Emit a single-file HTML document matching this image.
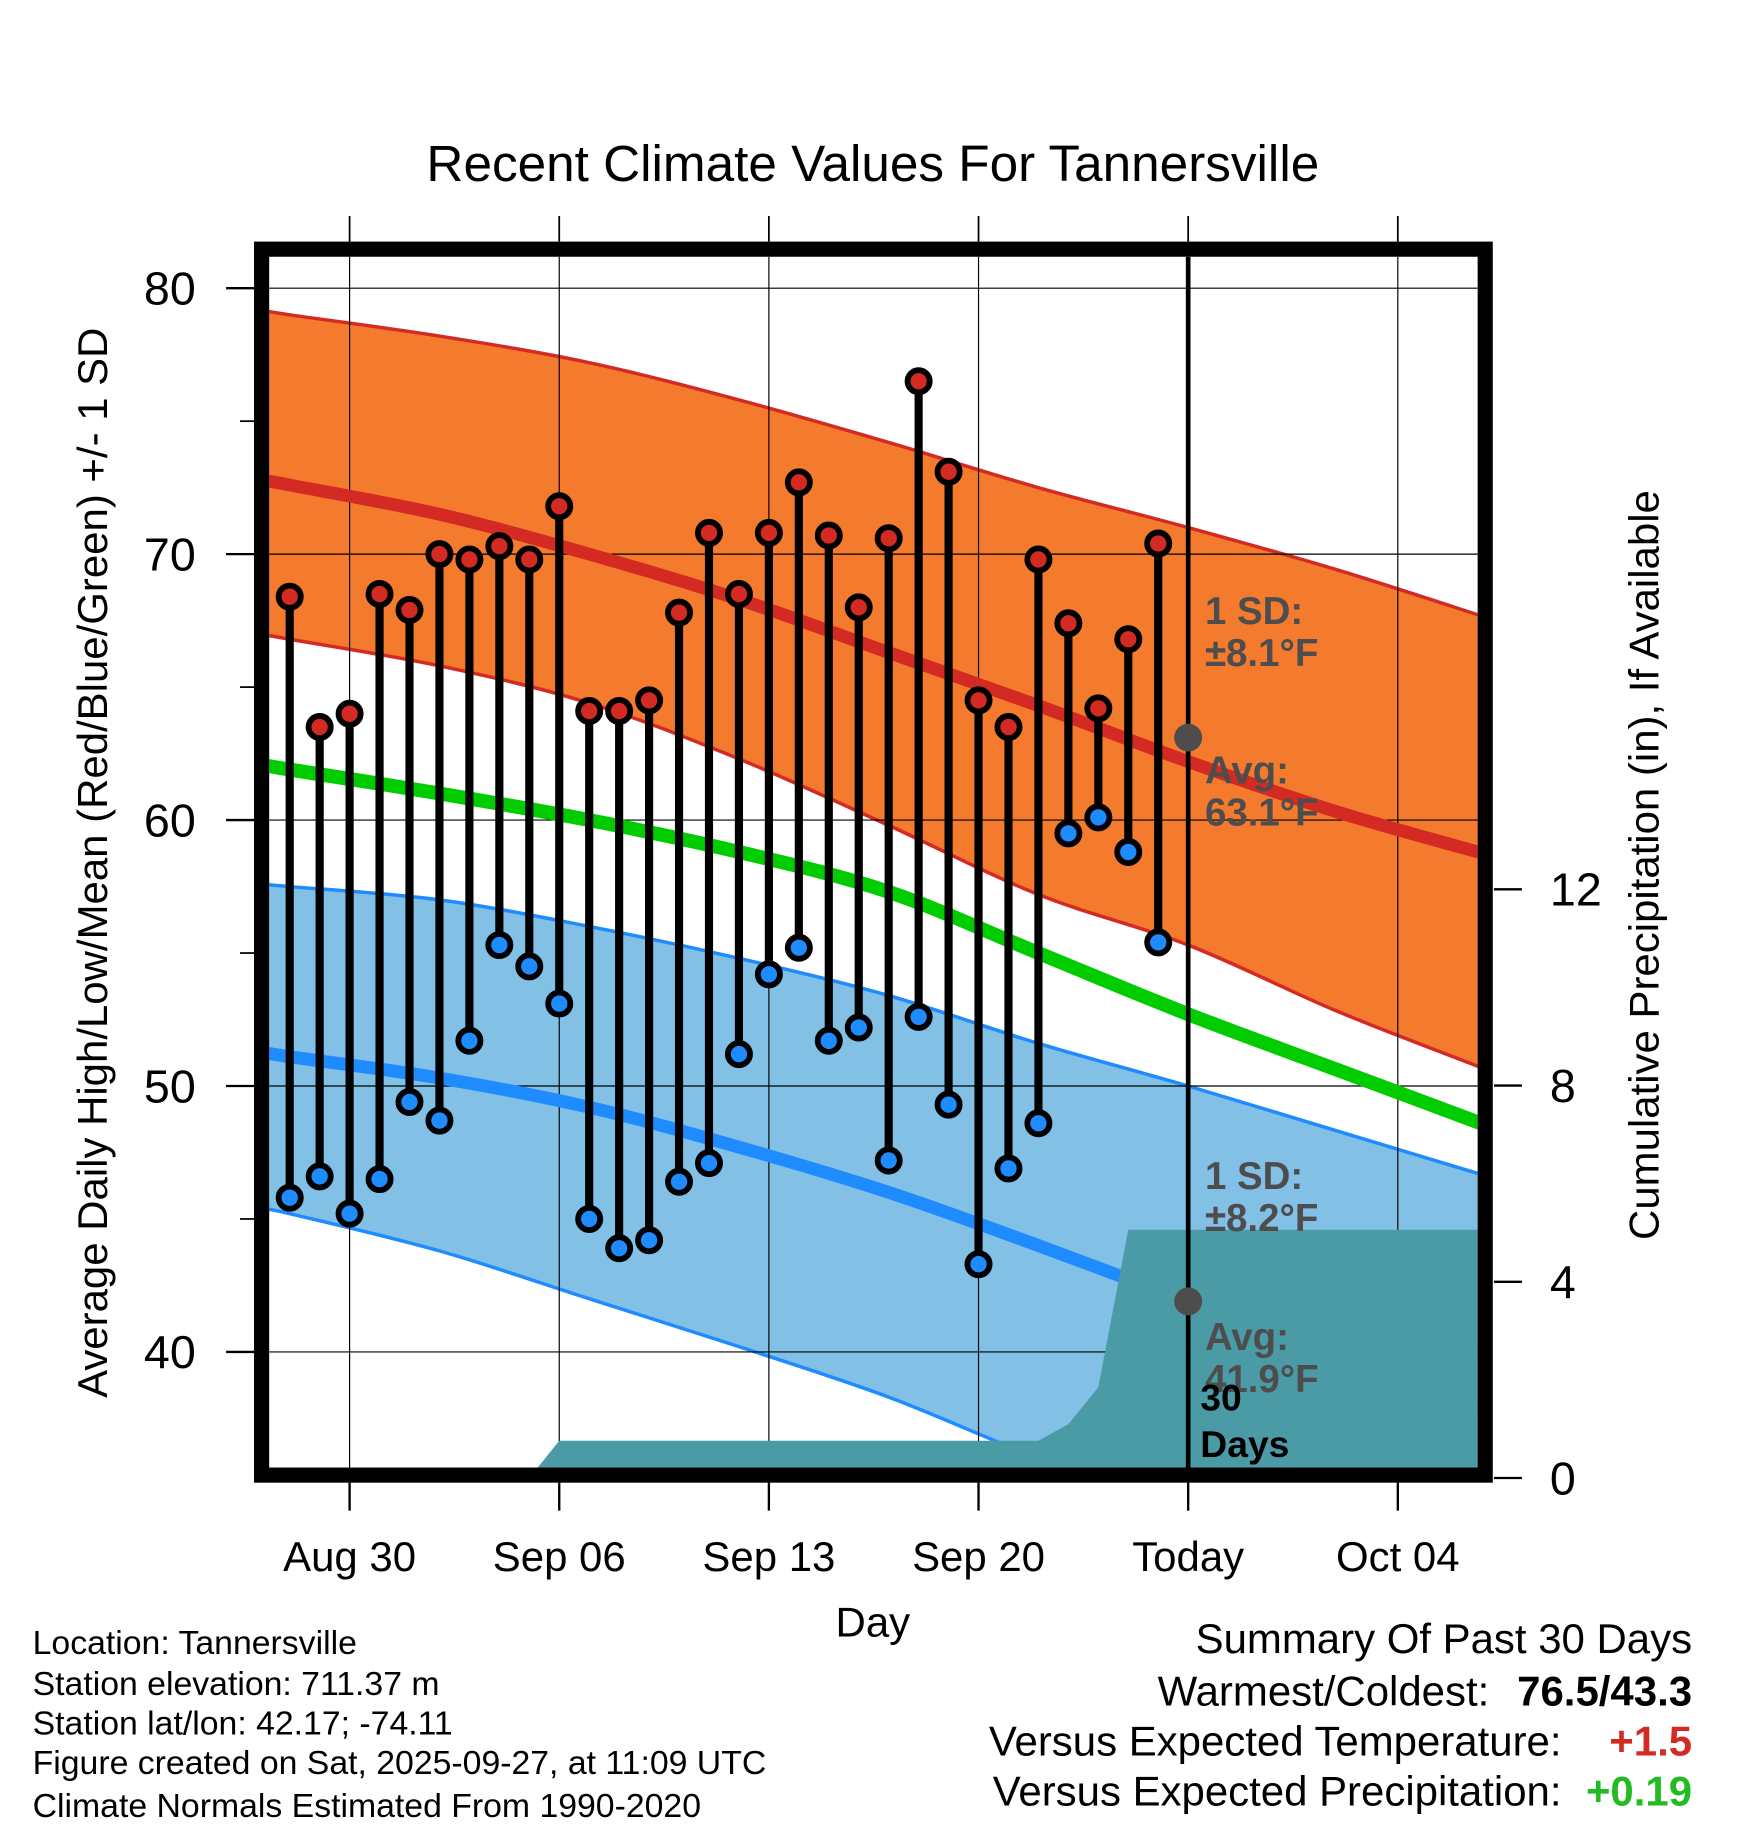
<!DOCTYPE html>
<html><head><meta charset="utf-8"><style>
html,body{margin:0;padding:0;background:#fff}
svg{display:block;font-family:"Liberation Sans",sans-serif}
</style></head><body>
<svg id="chart" width="1748" height="1828" viewBox="0 0 1500 1568" xmlns="http://www.w3.org/2000/svg">
<defs><clipPath id="pc"><rect x="231" y="220" width="1037" height="1040"/></clipPath></defs>
<g id="plot" clip-path="url(#pc)"></g>
<g id="axes"></g>
</svg>
<script>
// ---- data ----
const highs=[68.4,63.5,64.0,68.5,67.9,70.0,69.8,70.3,69.8,71.8,64.1,64.1,64.5,67.8,70.8,68.5,70.8,72.7,70.7,68.0,70.6,76.5,73.1,64.5,63.5,69.8,67.4,64.2,66.8,70.4];
const lows=[45.8,46.6,45.2,46.5,49.4,48.7,51.7,55.3,54.5,53.1,45.0,43.9,44.2,46.4,47.1,51.2,54.2,55.2,51.7,52.2,47.2,52.6,49.3,43.3,46.9,48.6,59.5,60.1,58.8,55.4];
const normDays=[-1,0,5,10,15,20,25,30,35,40];
const normHigh=[72.8,72.6,71.5,70.0,68.3,66.3,64.3,62.2,60.3,58.7];
const normHighUp=[79.2,79.0,78.2,77.2,75.8,74.2,72.5,71.0,69.4,67.6];
const normHighLo=[67.0,66.8,65.8,64.4,62.3,59.8,57.2,55.3,52.8,50.6];
const normMean=[62.1,61.9,61.0,60.0,58.8,57.3,55.0,52.7,50.6,48.5];
const normLow=[51.3,51.1,50.3,49.2,47.7,46.0,44.0,41.9,39.8,37.8];
const normLowUp=[57.6,57.5,57.0,56.0,54.8,53.4,51.6,50.0,48.3,46.6];
const normLowLo=[45.4,45.2,43.8,42.0,40.2,38.3,36.0,34.0,32.0,30.0];
const precipDays=[-1,8,9,25,26,27,28,41];
const precipVals=[0,0,0.76,0.76,1.1,1.85,5.06,5.06];
const xTickDays=[2,9,16,23,30,37];
const xTickLabels=["Aug 30","Sep 06","Sep 13","Sep 20","Today","Oct 04"];
const yTicks=[40,50,60,70,80];
const pTicks=[0,4,8,12];
// ---- scales ----
const X=d=>248.6+d*25.7;
const Y=v=>247+(80-v)*22.82;
const P=p=>1268-p*42.1;
const NS="http://www.w3.org/2000/svg";
function mk(parent,tag,attrs,text){const e=document.createElementNS(NS,tag);for(const k in attrs)e.setAttribute(k,attrs[k]);if(text!==undefined)e.textContent=text;parent.appendChild(e);return e;}
const plot=document.getElementById('plot'),axes=document.getElementById('axes');
// smooth path through normal points (Catmull-Rom)
function smooth(ds,vs,f){
  const p=ds.map((d,i)=>[X(d),f(vs[i])]);
  let s='M'+p[0][0]+','+p[0][1];
  for(let i=0;i<p.length-1;i++){
    const p0=p[Math.max(i-1,0)],p1=p[i],p2=p[i+1],p3=p[Math.min(i+2,p.length-1)];
    const c1=[p1[0]+(p2[0]-p0[0])/6,p1[1]+(p2[1]-p0[1])/6],c2=[p2[0]-(p3[0]-p1[0])/6,p2[1]-(p3[1]-p1[1])/6];
    s+=' C'+c1.join(',')+' '+c2.join(',')+' '+p2.join(',');
  }
  return s;
}
function smoothRev(ds,vs,f){return smooth(ds.slice().reverse(),vs.slice().reverse(),f).replace('M','L');}
function band(up,lo,fill,stroke,name){
  let e=mk(plot,'path',{d:smooth(normDays,up,Y)+' '+smoothRev(normDays,lo,Y)+'Z',fill:fill});
  
  e=mk(plot,'path',{d:smooth(normDays,up,Y),fill:'none',stroke:stroke,'stroke-width':3});
  
  e=mk(plot,'path',{d:smooth(normDays,lo,Y),fill:'none',stroke:stroke,'stroke-width':3});
  
}
band(normHighUp,normHighLo,'#f47a2e','#d42a24','high-sd-band');
band(normLowUp,normLowLo,'#82c0e6','#1e8cff','low-sd-band');
// grid
yTicks.forEach(v=>{const e=mk(plot,'line',{x1:231,x2:1268,y1:Y(v),y2:Y(v),stroke:'#000','stroke-width':1});});
xTickDays.forEach(d=>{const e=mk(plot,'line',{x1:X(d),x2:X(d),y1:220,y2:1260,stroke:'#000','stroke-width':1});});
let e;
e=mk(plot,'path',{d:smooth(normDays,normHigh,Y),fill:'none',stroke:'#d42a24','stroke-width':11});

e=mk(plot,'path',{d:smooth(normDays,normMean,Y),fill:'none',stroke:'#00cc00','stroke-width':12});

e=mk(plot,'path',{d:smooth(normDays,normLow,Y),fill:'none',stroke:'#1e8cff','stroke-width':11});

// precip
const pp=precipDays.map((d,i)=>X(d).toFixed(1)+','+P(precipVals[i]).toFixed(1)).join(' ')+' '+X(41)+',1270 '+X(-1)+',1270';
e=mk(plot,'polygon',{points:pp,fill:'#4a9ba6'});

// today line
e=mk(plot,'line',{x1:X(30),x2:X(30),y1:220,y2:1260,stroke:'#000','stroke-width':4});

// annotations
const g='#4d4d4d';
e=mk(plot,'circle',{cx:X(30),cy:Y(63.1),r:12,fill:g});
e=mk(plot,'circle',{cx:X(30),cy:Y(41.9),r:12,fill:g});
[["1 SD:",535,'sd-high-label'],["±8.1°F",571,'sd-high-value'],["Avg:",672,'avg-high-label'],["63.1°F",708,'avg-high-value'],["1 SD:",1020,'sd-low-label'],["±8.2°F",1056,'sd-low-value'],["Avg:",1158,'avg-low-label'],["41.9°F",1194,'avg-low-value']].forEach(a=>{
  e=mk(plot,'text',{x:1034,y:a[1],'font-size':33,'font-weight':'bold',fill:g},a[0]);});
e=mk(plot,'text',{x:1030,y:1210,'font-size':32,'font-weight':'bold',fill:'#000'},'30');
e=mk(plot,'text',{x:1030,y:1250,'font-size':32,'font-weight':'bold',fill:'#000'},'Days');
// daily bars
highs.forEach((h,i)=>{const x=X(i);
  e=mk(plot,'line',{x1:x,x2:x,y1:Y(h),y2:Y(lows[i]),stroke:'#000','stroke-width':7});
  e=mk(plot,'circle',{cx:x,cy:Y(h),r:9.5,fill:'#d42a24',stroke:'#000','stroke-width':5});
  e=mk(plot,'circle',{cx:x,cy:Y(lows[i]),r:9.5,fill:'#1e8cff',stroke:'#000','stroke-width':5});
});
// frame
e=mk(axes,'rect',{x:224.5,y:213.5,width:1050,height:1052,fill:'none',stroke:'#000','stroke-width':13});
// ticks
yTicks.forEach(v=>{e=mk(axes,'line',{x1:194,x2:218,y1:Y(v),y2:Y(v),stroke:'#000','stroke-width':2});
  e=mk(axes,'text',{x:168,y:Y(v)+14,'font-size':40,'text-anchor':'end'},v);});
[45,55,65,75].forEach(v=>{e=mk(axes,'line',{x1:206,x2:218,y1:Y(v),y2:Y(v),stroke:'#000','stroke-width':1.5});});
pTicks.forEach(p=>{e=mk(axes,'line',{x1:1282,x2:1306,y1:P(p),y2:P(p),stroke:'#000','stroke-width':2});
  e=mk(axes,'text',{x:1330,y:P(p)+14,'font-size':40,'text-anchor':'start'},p);});
xTickDays.forEach((d,i)=>{e=mk(axes,'line',{x1:X(d),x2:X(d),y1:1272,y2:1296,stroke:'#000','stroke-width':2});
  e=mk(axes,'line',{x1:X(d),x2:X(d),y1:185,y2:207,stroke:'#000','stroke-width':1.5});
  e=mk(axes,'text',{x:X(d),y:1348,'font-size':36,'text-anchor':'middle'},xTickLabels[i]);});
</script>
<svg style="position:absolute;left:0;top:0" width="1748" height="1828" viewBox="0 0 1500 1568" font-family="Liberation Sans, sans-serif">
<text x="749" y="155" font-size="44" text-anchor="middle">Recent Climate Values For Tannersville</text>
<text transform="translate(92,740) rotate(-90)" font-size="36" text-anchor="middle">Average Daily High/Low/Mean (Red/Blue/Green) +/- 1 SD</text>
<text transform="translate(1423,742) rotate(-90)" font-size="36" text-anchor="middle">Cumulative Precipitation (in), If Available</text>
<text x="749" y="1404" font-size="36" text-anchor="middle">Day</text>
<g font-size="29">
<text x="28" y="1419">Location: Tannersville</text>
<text x="28" y="1454">Station elevation: 711.37 m</text>
<text x="28" y="1488">Station lat/lon: 42.17; -74.11</text>
<text x="28" y="1522">Figure created on Sat, 2025-09-27, at 11:09 UTC</text>
<text x="28" y="1559">Climate Normals Estimated From 1990-2020</text>
</g>
<g font-size="36" text-anchor="end">
<text x="1452" y="1418">Summary Of Past 30 Days</text>
<text x="1278" y="1463">Warmest/Coldest:</text>
<text x="1452" y="1463" font-weight="bold">76.5/43.3</text>
<text x="1340" y="1506">Versus Expected Temperature:</text>
<text x="1452" y="1506" font-weight="bold" fill="#d42a24">+1.5</text>
<text x="1340" y="1549">Versus Expected Precipitation:</text>
<text x="1452" y="1549" font-weight="bold" fill="#22bb22">+0.19</text>
</g>
</svg>
</body></html>
